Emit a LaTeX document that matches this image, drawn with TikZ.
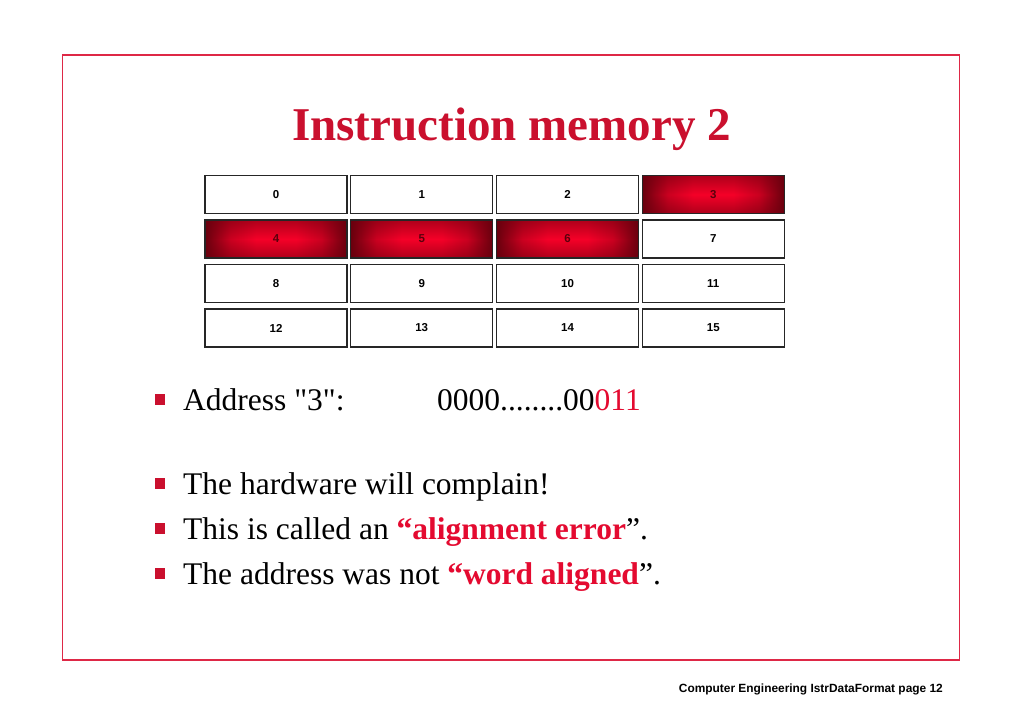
\documentclass[tikz,border=0pt]{standalone}
\usepackage{fontspec}
\setmainfont{Liberation Serif}[Ligatures=TeXOff]
\newfontfamily\arialf{Liberation Sans}
\usetikzlibrary{fadings}
\definecolor{crim}{RGB}{202,16,46}
\definecolor{framec}{RGB}{222,40,70}
\definecolor{hil}{RGB}{228,10,48}
\definecolor{hotin}{RGB}{245,0,40}
\definecolor{hotout}{RGB}{105,0,14}
\definecolor{hotlbl}{RGB}{90,0,12}
\pgfdeclarehorizontalshading{hotrow}{100bp}{color(0bp)=(hotout); color(25bp)=(hotout); color(34bp)=(hotin!70!hotout); color(43bp)=(hotin); color(57bp)=(hotin); color(66bp)=(hotin!70!hotout); color(75bp)=(hotout); color(100bp)=(hotout)}
\tikzfading[name=vfade, top color=transparent!50, bottom color=transparent!50, middle color=transparent!100]
\tikzset{
  cell/.style={draw=black!85, line width=1.3pt, minimum width=142pt, minimum height=38pt, inner sep=0pt, font=\arialf\bfseries\fontsize{11.5}{13}\selectfont, fill=white},
  hot/.style={text=hotlbl, path picture={
      \fill[shading=hotrow] (path picture bounding box.south west) rectangle (path picture bounding box.north east);
      \fill[hotout, path fading=vfade] (path picture bounding box.south west) rectangle (path picture bounding box.north east);
    }},
  bul/.style={fill=crim, minimum size=10.5pt, inner sep=0pt},
  body/.style={anchor=base west, inner sep=0pt, font=\fontsize{31.5}{36}\selectfont},
}
\begin{document}
\begin{tikzpicture}[x=1pt,y=-1pt]
\path[use as bounding box, fill=white] (0,0) rectangle (1024,709);
\draw[framec, line width=1.6pt] (62.5,55) rectangle (959.5,660);
\node[anchor=base, inner sep=0pt, text=crim, font=\bfseries\fontsize{47}{50}\selectfont] (title) at (511.5,140) {Instruction memory 2};
% memory grid
\node[cell] (c0) at (276,194.5) {0};
\node[cell] (c1) at (421.7,194.5) {1};
\node[cell] (c2) at (567.5,194.5) {2};
\node[cell,hot] (c3) at (713.3,194.5) {3};
\node[cell,hot] (c4) at (276,239) {4};
\node[cell,hot] (c5) at (421.7,239) {5};
\node[cell,hot] (c6) at (567.5,239) {6};
\node[cell] (c7) at (713.3,239) {7};
\node[cell] (c8) at (276,283.5) {8};
\node[cell] (c9) at (421.7,283.5) {9};
\node[cell] (c10) at (567.5,283.5) {10};
\node[cell] (c11) at (713.3,283.5) {11};
\node[cell] (c12) at (276,328) {12};
\node[cell] (c13) at (421.7,328) {13};
\node[cell] (c14) at (567.5,328) {14};
\node[cell] (c15) at (713.3,328) {15};
% bullets
\node[bul] (b1) at (160,399.5) {};
\node[bul] (b2) at (160,483.5) {};
\node[bul] (b3) at (160,528.5) {};
\node[bul] (b4) at (160,573.5) {};
\node[body] (t1) at (183,410) {Address "3":};
\node[body] (t1b) at (437,410) {0000........00\textcolor{hil}{011}};
\node[body] (t2) at (183,494) {The hardware will complain!};
\node[body] (t3) at (183,539) {This is called an \textcolor{hil}{\textbf{“alignment error}}”.};
\node[body] (t4) at (183,584) {The address was not \textcolor{hil}{\textbf{“word aligned}}”.};
\node[anchor=base east, inner sep=0pt, font=\arialf\bfseries\fontsize{11.9}{14}\selectfont] (foot) at (943,692.5) {Computer Engineering IstrDataFormat page 12};
\end{tikzpicture}
\end{document}
